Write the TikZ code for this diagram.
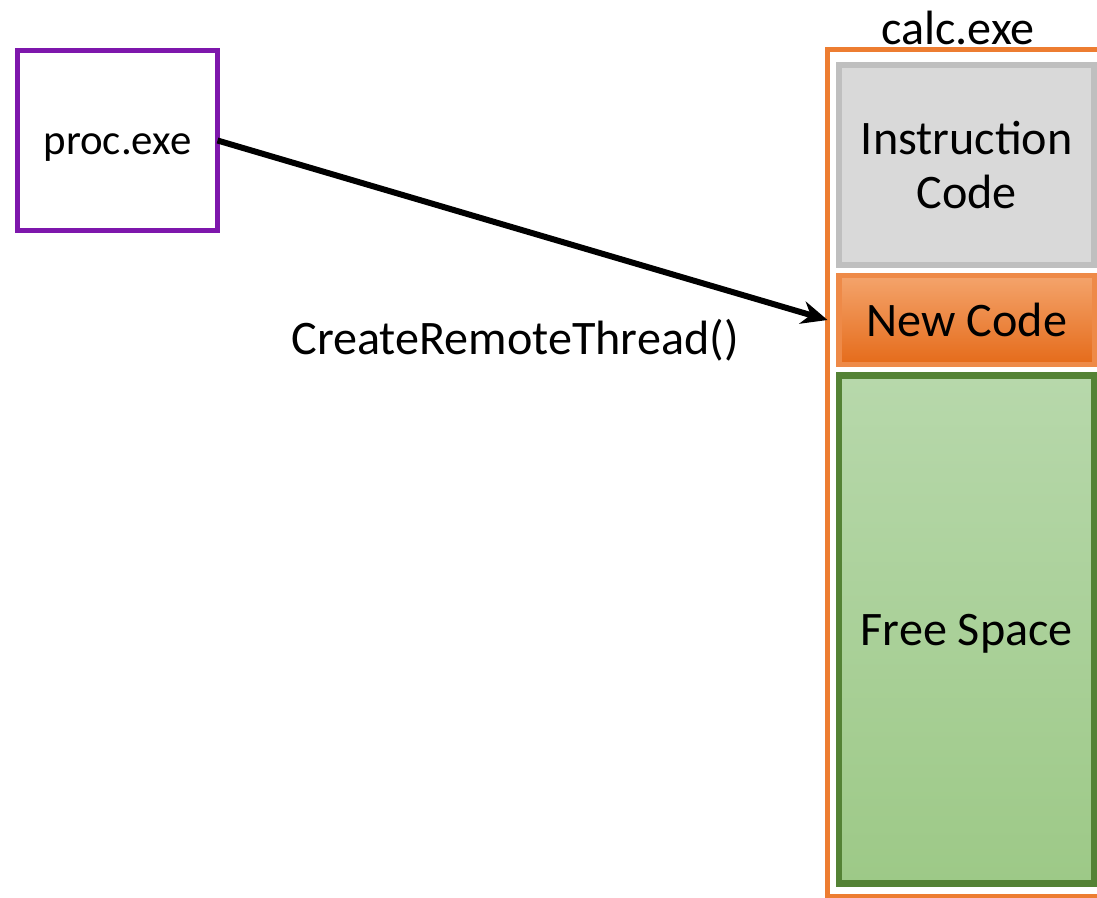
\documentclass[tikz,border=0pt]{standalone}
\usepackage{fontspec}
\setmainfont{Carlito}
\usetikzlibrary{arrows.meta}

\definecolor{procPurple}{HTML}{7E17AC}
\definecolor{calcOrange}{HTML}{ED7D31}
\definecolor{instrGray}{HTML}{D9D9D9}
\definecolor{instrLine}{HTML}{BFBFBF}
\definecolor{newTop}{HTML}{F4A46C}
\definecolor{newBottom}{HTML}{E56B1A}
\definecolor{newLine}{HTML}{EE8A48}
\definecolor{freeTop}{HTML}{B7D8AB}
\definecolor{freeBottom}{HTML}{9DC987}
\definecolor{freeLine}{HTML}{548235}

\tikzset{
  membox/.style={rectangle, outer sep=0pt, inner sep=0pt, align=center,
    font=\fontsize{13.7}{15.5}\selectfont, minimum width=25.55mm},
}

\begin{document}
\begin{tikzpicture}[x=0.1mm, y=-0.1mm]
    \clip (0,0) rectangle (1097,898);

    % Define the positions of the boxes
    \coordinate (procPos) at (117.5, 140.5);
    \coordinate (calcPos) at (966.75, 473.25);
    \coordinate (instrPos) at (966.75, 165);
    \coordinate (newPos) at (966.75, 320);
    \coordinate (freePos) at (966.75, 629.5);

    % Draw the processes
    \node[rectangle, draw=procPurple, line width=0.55mm, outer sep=0pt,
          minimum width=20mm, minimum height=18mm, text height=2.9mm, text depth=0pt,
          font=\fontsize{12.2}{14}\selectfont] (proc) at (procPos) {proc.exe};
    \node[rectangle, draw=calcOrange, line width=0.5mm, outer sep=0pt,
          minimum width=27.85mm, minimum height=84.65mm] (calc) at (calcPos) {};
    \node[font=\fontsize{13.7}{15.5}\selectfont] at (958, 28) {calc.exe};

    % Draw the memory of calc.exe
    \node[membox, draw=instrLine, fill=instrGray, line width=0.65mm,
          minimum height=20mm] (instr) at (instrPos) {Instruction\\Code};
    \node[membox, draw=newLine, top color=newTop, bottom color=newBottom,
          line width=0.55mm, minimum height=8.9mm] (newcode) at (newPos) {New Code};
    \node[membox, draw=freeLine, top color=freeTop, bottom color=freeBottom,
          line width=0.65mm, minimum height=50.8mm, text depth=0pt] (free) at (freePos) {Free Space};

    % Draw the injection
    \draw[line width=0.6mm, -{Stealth[length=2.6mm, width=2.3mm]}]
        (proc.east) -- (calc.west |- newcode.west);
    \node[font=\fontsize{13.7}{15.5}\selectfont] (call) at (515, 340) {CreateRemoteThread()};
\end{tikzpicture}
\end{document}
